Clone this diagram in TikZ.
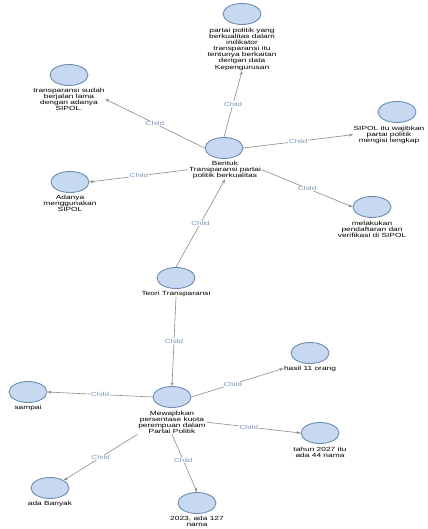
\documentclass[tikz,border=0pt]{standalone}
\usepackage{fontspec}
\setmainfont{Liberation Sans}[FakeStretch=1.4]
\usetikzlibrary{arrows.meta,shapes.geometric}
\definecolor{ellfill}{HTML}{C6D9F0}
\definecolor{elldraw}{HTML}{6E8CB0}
\definecolor{edgecol}{HTML}{8A8A8A}
\definecolor{lblcol}{HTML}{7D96BC}
\tikzset{
  ell/.style={ellipse, draw=elldraw, fill=ellfill, line width=0.9pt, minimum width=38bp, minimum height=21bp, inner sep=0pt},
  txt/.style={anchor=north, align=center, font=\fontsize{6}{6.2}\selectfont, inner sep=0.5pt},
  conn/.style={draw=edgecol, line width=0.6pt, -{Stealth[length=4bp,width=3bp]}},
  lbl/.style={font=\fontsize{5.8}{6}\selectfont, text=lblcol, fill=white, inner sep=0.5pt}
}
\begin{document}
\begin{tikzpicture}[x=1bp,y=-1bp]
\useasboundingbox (0,0) rectangle (427,529);
% nodes
\node[ell] (topE) at (242,14) {};
\node[txt] (topT) at (242,27) {partai politik yang\\berkualitas dalam\\indikator\\transparansi itu\\tentunya berkaitan\\dengan data\\Kepengurusan};
\node[ell] (tsE) at (69,75) {};
\node[txt] (tsT) at (69,87) {transparansi sudah\\berjalan lama\\dengan adanya\\SIPOL.};
\node[ell] (sipE) at (397,112) {};
\node[txt] (sipT) at (389,125) {SIPOL itu wajibkan\\partai politik\\mengisi lengkap};
\node[ell] (bE) at (224,148) {};
\node[txt] (bT) at (225,160) {Bentuk\\Transparansi partai\\politik berkualitas};
\node[ell] (adE) at (70,182) {};
\node[txt] (adT) at (70,194) {Adanya\\menggunakan\\SIPOL};
\node[ell] (melE) at (372,207) {};
\node[txt] (melT) at (372,220) {melakukan\\pendaftaran dan\\verifikasi di SIPOL};
\node[ell] (teoE) at (176,278) {};
\node[txt] (teoT) at (176,290) {Teori Transparansi};
\node[ell] (hasE) at (310,353) {};
\node[txt] (hasT) at (310,365) {hasil 11 orang};
\node[ell] (samE) at (28,392) {};
\node[txt] (samT) at (28,404) {sampai};
\node[ell] (mwE) at (172,397) {};
\node[txt] (mwT) at (172,410) {Mewajibkan\\persentase kuota\\perempuan dalam\\Partai Politik};
\node[ell] (tahE) at (320,433) {};
\node[txt] (tahT) at (320,446) {tahun 2027 itu\\ada 44 nama};
\node[ell] (adbE) at (50,488) {};
\node[txt] (adbT) at (50,500) {ada Banyak};
\node[ell] (e23E) at (197,503) {};
\node[txt] (e23T) at (197,515) {2023, ada 127\\nama};
% connectors
\draw[conn] (bE.north) -- node[lbl, pos=0.5] {Child} (topT.south);
\draw[conn] (bE.west) -- node[lbl, pos=0.5] {Child} (tsT.east);
\draw[conn] (bE.east) -- node[lbl, pos=0.5] {Child} (sipT.west);
\draw[conn] (bT.west) -- node[lbl, pos=0.5] {Child} (adE.east);
\draw[conn] (bT.east) -- node[lbl, pos=0.5] {Child} (melE.west);
\draw[conn] (teoE.north) -- node[lbl, pos=0.5] {Child} (bT.south);
\draw[conn] (teoT.south) -- node[lbl, pos=0.5] {Child} (mwE.north);
\draw[conn] (mwE.east) -- node[lbl, pos=0.45] {Child} (hasT.west);
\draw[conn] (mwE.west) -- node[lbl, pos=0.5] {Child} (samE.east);
\draw[conn] (mwT.east) -- node[lbl, pos=0.45] {Child} (tahE.west);
\draw[conn] (mwT.south west) -- node[lbl, pos=0.5] {Child} (adbE.north east);
\draw[conn] (mwT.south) -- node[lbl, pos=0.45] {Child} (e23E.north);
\end{tikzpicture}
\end{document}
